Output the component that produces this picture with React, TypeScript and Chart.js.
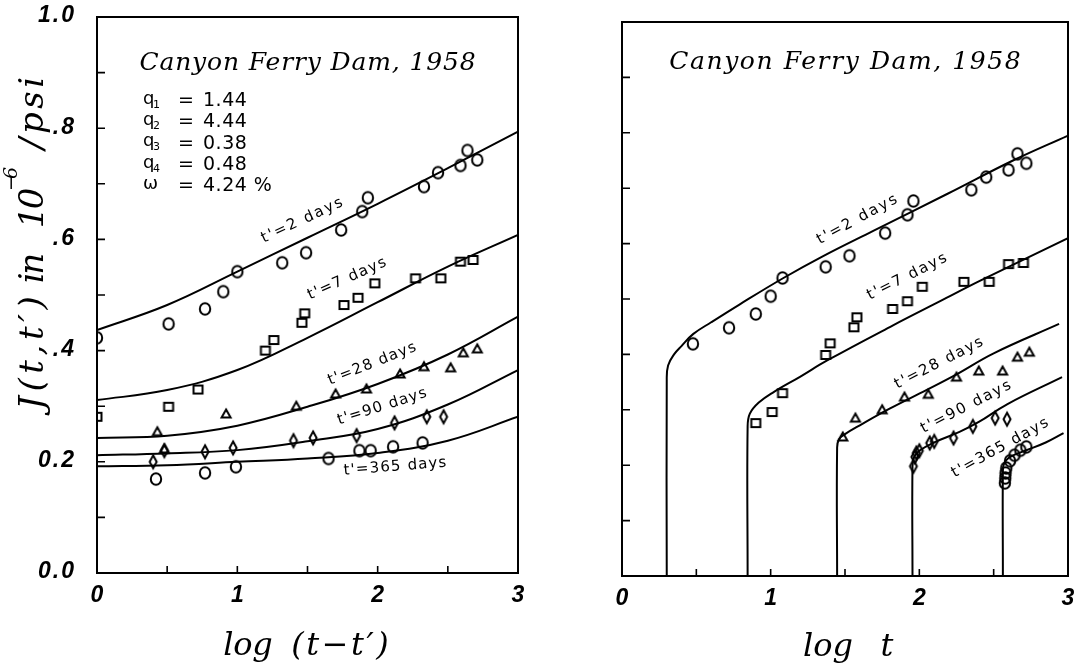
import React, { useEffect, useRef } from "react";
import { Chart, registerables } from "chart.js";

Chart.register(...registerables);

// ---------------- data ----------------
// Left panel: J(t,t') vs log(t - t')
const curveGrid = [0, 0.5, 1, 1.5, 2, 2.5, 3];
const leftCurve2 = [0.437, 0.482, 0.542, 0.603, 0.664, 0.728, 0.794];
const leftCurve7 = [0.311, 0.329, 0.365, 0.423, 0.487, 0.551, 0.608];
const leftCurve28 = [0.243, 0.247, 0.265, 0.299, 0.34, 0.393, 0.461];
const leftCurve90 = [0.212, 0.215, 0.221, 0.237, 0.259, 0.303, 0.365];
const leftCurve365 = [0.192, 0.194, 0.2, 0.206, 0.216, 0.238, 0.281];

const leftObs2X = [0, 0.51, 0.77, 0.9, 1.0, 1.32, 1.49, 1.74, 1.89, 1.93, 2.33, 2.43, 2.59, 2.64, 2.71];
const leftObs2Y = [0.423, 0.448, 0.475, 0.506, 0.542, 0.558, 0.576, 0.617, 0.65, 0.675, 0.695, 0.72, 0.733, 0.76, 0.743];
const leftObs7X = [0, 0.51, 0.72, 1.2, 1.26, 1.46, 1.48, 1.76, 1.86, 1.98, 2.27, 2.45, 2.59, 2.68];
const leftObs7Y = [0.281, 0.299, 0.33, 0.4, 0.419, 0.45, 0.467, 0.482, 0.495, 0.521, 0.53, 0.53, 0.56, 0.563];
const leftObs28X = [0.43, 0.48, 0.92, 1.42, 1.7, 1.92, 2.16, 2.33, 2.52, 2.61, 2.71];
const leftObs28Y = [0.254, 0.223, 0.286, 0.3, 0.322, 0.331, 0.358, 0.371, 0.369, 0.396, 0.403];
const leftObs90X = [0.4, 0.48, 0.77, 0.97, 1.4, 1.54, 1.85, 2.12, 2.35, 2.47];
const leftObs90Y = [0.2, 0.22, 0.218, 0.225, 0.238, 0.243, 0.247, 0.27, 0.281, 0.281];
const leftObs365X = [0.42, 0.77, 0.99, 1.65, 1.87, 1.95, 2.11, 2.32];
const leftObs365Y = [0.169, 0.18, 0.191, 0.206, 0.22, 0.22, 0.227, 0.234];

// Right panel: J(t,t') vs log t
const rightCurve2X = [0.301, 0.301, 0.31, 0.35, 0.4, 0.48, 0.6, 0.79, 1.08, 1.35, 1.69, 2.19, 2.63, 3.0];
const rightCurve2Y = [0, 0.355, 0.38, 0.4, 0.415, 0.437, 0.458, 0.49, 0.537, 0.577, 0.623, 0.69, 0.75, 0.795];
const rightCurve7X = [0.845, 0.845, 0.86, 0.92, 1.02, 1.2, 1.38, 1.82, 2.14, 2.41, 3.0];
const rightCurve7Y = [0, 0.27, 0.293, 0.313, 0.332, 0.36, 0.389, 0.452, 0.496, 0.533, 0.61];
const rightCurve28X = [1.447, 1.447, 1.46, 1.5, 1.6, 1.8, 2.05, 2.25, 2.5, 2.94];
const rightCurve28Y = [0, 0.232, 0.247, 0.256, 0.272, 0.302, 0.336, 0.364, 0.402, 0.455];
const rightCurve90X = [1.954, 1.954, 1.965, 2.0, 2.09, 2.27, 2.4, 2.59, 2.96];
const rightCurve90Y = [0, 0.198, 0.215, 0.226, 0.24, 0.26, 0.278, 0.31, 0.359];
const rightCurve365X = [2.562, 2.562, 2.57, 2.6, 2.65, 2.72, 2.85, 2.97];
const rightCurve365Y = [0, 0.19, 0.203, 0.213, 0.22, 0.227, 0.241, 0.258];

const rightObs2X = [0.477, 0.72, 0.9, 1.0, 1.08, 1.37, 1.53, 1.77, 1.92, 1.96, 2.35, 2.45, 2.6, 2.66, 2.72];
const rightObs2Y = [0.419, 0.448, 0.473, 0.505, 0.538, 0.558, 0.578, 0.619, 0.652, 0.677, 0.697, 0.72, 0.733, 0.762, 0.745];
const rightObs7X = [0.9, 1.01, 1.08, 1.37, 1.4, 1.56, 1.58, 1.82, 1.92, 2.02, 2.3, 2.47, 2.6, 2.7];
const rightObs7Y = [0.276, 0.296, 0.33, 0.399, 0.42, 0.449, 0.467, 0.482, 0.496, 0.522, 0.531, 0.531, 0.563, 0.565];
const rightObs28X = [1.485, 1.57, 1.75, 1.9, 2.06, 2.25, 2.4, 2.56, 2.66, 2.74];
const rightObs28Y = [0.251, 0.285, 0.3, 0.323, 0.328, 0.359, 0.37, 0.37, 0.395, 0.404];
const rightObs90X = [1.96, 1.97, 1.98, 2.0, 2.07, 2.1, 2.23, 2.36, 2.51, 2.59];
const rightObs90Y = [0.198, 0.215, 0.222, 0.226, 0.24, 0.243, 0.249, 0.27, 0.285, 0.283];
const rightObs365X = [2.575, 2.578, 2.58, 2.585, 2.61, 2.64, 2.68, 2.72];
const rightObs365Y = [0.168, 0.177, 0.186, 0.195, 0.208, 0.218, 0.227, 0.233];

// Axes / ticks
const yTickValues = [0, 0.2, 0.4, 0.6, 0.8, 1.0];
const yTickLabels = ["0.0", "0.2", ".4", ".6", ".8", "1.0"];
const yMinorTicks = [0.1, 0.2, 0.3, 0.4, 0.5, 0.6, 0.7, 0.8, 0.9];
const xTickValues = [0, 1, 2, 3];
const xTickLabels = ["0", "1", "2", "3"];
const xMinorTicks = [0.5, 1, 1.5, 2, 2.5];

// Texts
const chartTitle = "Canyon Ferry Dam, 1958";
const curveLabels = ["t'=2 days", "t'=7 days", "t'=28 days", "t'=90 days", "t'=365 days"];
const paramSymbols = ["q", "q", "q", "q", "ω"];
const paramSubscripts = ["1", "2", "3", "4", ""];
const paramValues = ["1.44", "4.44", "0.38", "0.48", "4.24 %"];

// Curve label anchors (data coordinates) and angles (deg)
const leftLabelX = [1.461, 1.782, 1.96, 2.031, 2.124];
const leftLabelY = [0.634, 0.529, 0.376, 0.299, 0.191];
const leftLabelAngle = [-25, -24, -21.6, -17.5, -4.6];
const leftLabelWidth = [90, 86, 95, 94, 104];
const rightLabelX = [1.581, 1.917, 2.132, 2.314, 2.543];
const rightLabelY = [0.643, 0.54, 0.384, 0.305, 0.231];
const rightLabelAngle = [-28.4, -26.6, -27, -27, -28.9];
const rightLabelWidth = [91, 89, 99, 101, 110];

// ---------------- helpers ----------------
const SANS = "'Liberation Sans', Arial, sans-serif";
const DSANS = "'DejaVu Sans', 'Liberation Sans', sans-serif";
const SERIF = "'DejaVu Serif', 'Liberation Serif', serif";

function fitText(
  ctx: CanvasRenderingContext2D,
  text: string,
  cx: number,
  cy: number,
  width: number,
  font: string,
  angle = 0,
  baseline: CanvasTextBaseline = "middle"
) {
  ctx.save();
  ctx.font = font;
  (ctx as any).letterSpacing = "0px";
  const w = ctx.measureText(text).width;
  const n = Array.from(text).length;
  const ls = n > 1 ? (width - w) / n : 0;
  (ctx as any).letterSpacing = ls.toFixed(2) + "px";
  const w2 = ctx.measureText(text).width - ls;
  ctx.translate(cx, cy);
  ctx.rotate(angle);
  ctx.textAlign = "left";
  ctx.textBaseline = baseline;
  ctx.fillStyle = "#000";
  ctx.fillText(text, -w2 / 2, 0);
  ctx.restore();
}

function pts(xs: number[], ys: number[]) {
  return xs.map((x, i) => ({ x, y: ys[i] }));
}

function curveDs(xs: number[], ys: number[]) {
  return {
    data: pts(xs, ys),
    showLine: true,
    borderColor: "#000",
    borderWidth: 2,
    pointRadius: 0,
    tension: 0.4,
    fill: false,
  };
}

function markerDs(xs: number[], ys: number[], img: HTMLCanvasElement) {
  return {
    data: pts(xs, ys),
    showLine: false,
    pointStyle: img,
    pointRadius: 6,
    borderColor: "#000",
    backgroundColor: "rgba(0,0,0,0)",
  };
}

function makeMarker(kind: string): HTMLCanvasElement {
  const c = document.createElement("canvas");
  c.width = 18;
  c.height = 18;
  const g = c.getContext("2d")!;
  g.strokeStyle = "#000";
  g.lineWidth = 2;
  g.beginPath();
  if (kind === "circle") g.ellipse(9, 9, 5.2, 5.8, 0, 0, Math.PI * 2);
  else if (kind === "square") g.rect(4.5, 5, 9, 8);
  else if (kind === "triangle") {
    g.moveTo(9, 4.5);
    g.lineTo(13.5, 12.5);
    g.lineTo(4.5, 12.5);
    g.closePath();
  } else {
    g.moveTo(9, 2.5);
    g.lineTo(12.5, 9);
    g.lineTo(9, 15.5);
    g.lineTo(5.5, 9);
    g.closePath();
  }
  g.stroke();
  return c;
}

function makePlugin(side: "left" | "right") {
  return {
    id: "decor_" + side,
    afterDraw(chart: any) {
      const ctx: CanvasRenderingContext2D = chart.ctx;
      const ca = chart.chartArea;
      const xs = chart.scales.x;
      const ys = chart.scales.y;
      ctx.save();
      ctx.strokeStyle = "#000";
      ctx.lineWidth = 2;
      ctx.strokeRect(ca.left, ca.top, ca.right - ca.left, ca.bottom - ca.top);
      ctx.lineWidth = 1.6;
      ctx.beginPath();
      for (const v of yMinorTicks) {
        const y = ys.getPixelForValue(v);
        ctx.moveTo(ca.left, y);
        ctx.lineTo(ca.left + 8, y);
      }
      for (const v of xMinorTicks) {
        const x = xs.getPixelForValue(v);
        ctx.moveTo(x, ca.bottom);
        ctx.lineTo(x, ca.bottom - 7);
      }
      ctx.stroke();

      // x tick labels
      xTickValues.forEach((v, i) => {
        const x = xs.getPixelForValue(v);
        fitText(ctx, xTickLabels[i], x, ca.bottom + 23, 12, `italic bold 23px ${SANS}`);
      });

      const cx = (ca.left + ca.right) / 2;
      const titleW = side === "left" ? 337 : 353;
      fitText(ctx, chartTitle, cx, ca.top + (side === "left" ? 46 : 40), titleW, `italic 25px ${SERIF}`);

      const labX = side === "left" ? leftLabelX : rightLabelX;
      const labY = side === "left" ? leftLabelY : rightLabelY;
      const labA = side === "left" ? leftLabelAngle : rightLabelAngle;
      const labW = side === "left" ? leftLabelWidth : rightLabelWidth;
      curveLabels.forEach((t, i) => {
        fitText(
          ctx,
          t,
          xs.getPixelForValue(labX[i]),
          ys.getPixelForValue(labY[i]),
          labW[i],
          `15px ${DSANS}`,
          (labA[i] * Math.PI) / 180
        );
      });

      if (side === "left") {
        // y tick labels
        ctx.font = `italic bold 23px ${SANS}`;
        (ctx as any).letterSpacing = "2px";
        ctx.textAlign = "right";
        ctx.textBaseline = "middle";
        ctx.fillStyle = "#000";
        yTickValues.forEach((v, i) => {
          ctx.fillText(yTickLabels[i], ca.left - 21, ys.getPixelForValue(v) - 1);
        });
        (ctx as any).letterSpacing = "0px";

        // parameter list
        paramSymbols.forEach((s, i) => {
          const y = ca.top + 84 + i * 21.3;
          ctx.font = `18px ${DSANS}`;
          ctx.textAlign = "left";
          ctx.textBaseline = "middle";
          ctx.fillText(s, ca.left + 46, y - 2);
          if (paramSubscripts[i]) {
            ctx.font = `11px ${DSANS}`;
            ctx.fillText(paramSubscripts[i], ca.left + 56, y + 4);
          }
          ctx.font = `19px ${DSANS}`;
          ctx.fillText("=", ca.left + 81, y);
          (ctx as any).letterSpacing = "0.5px";
          ctx.fillText(paramValues[i], ca.left + 106, y);
          (ctx as any).letterSpacing = "0px";
        });

        // y axis title (rotated)
        const yFont = `italic 34px ${SERIF}`;
        const base = 43;
        fitText(ctx, "J(t,t′)", base, 353, 118, yFont, -Math.PI / 2, "alphabetic");
        fitText(ctx, "in", base, 268, 28, yFont, -Math.PI / 2, "alphabetic");
        fitText(ctx, "10", base, 208, 38, yFont, -Math.PI / 2, "alphabetic");
        fitText(ctx, "−6", base - 26, 179, 20, `italic 19px ${SERIF}`, -Math.PI / 2, "alphabetic");
        fitText(ctx, "/psi", base, 113, 76, yFont, -Math.PI / 2, "alphabetic");

        // x axis title
        fitText(ctx, "log", 248, 655, 49, `italic 32px ${SERIF}`, 0, "alphabetic");
        fitText(ctx, "(t−t′)", 340, 655, 100, `italic 32px ${SERIF}`, 0, "alphabetic");
      } else {
        fitText(ctx, "log", 828 - 545, 656, 50, `italic 32px ${SERIF}`, 0, "alphabetic");
        fitText(ctx, "t", 887 - 545, 656, 12, `italic 32px ${SERIF}`, 0, "alphabetic");
      }
      ctx.restore();
    },
  };
}

function buildConfig(side: "left" | "right", mk: Record<string, HTMLCanvasElement>): any {
  const datasets =
    side === "left"
      ? [
          curveDs(curveGrid, leftCurve2),
          curveDs(curveGrid, leftCurve7),
          curveDs(curveGrid, leftCurve28),
          curveDs(curveGrid, leftCurve90),
          curveDs(curveGrid, leftCurve365),
          markerDs(leftObs2X, leftObs2Y, mk.circle),
          markerDs(leftObs7X, leftObs7Y, mk.square),
          markerDs(leftObs28X, leftObs28Y, mk.triangle),
          markerDs(leftObs90X, leftObs90Y, mk.diamond),
          markerDs(leftObs365X, leftObs365Y, mk.circle),
        ]
      : [
          curveDs(rightCurve2X, rightCurve2Y),
          curveDs(rightCurve7X, rightCurve7Y),
          curveDs(rightCurve28X, rightCurve28Y),
          curveDs(rightCurve90X, rightCurve90Y),
          curveDs(rightCurve365X, rightCurve365Y),
          markerDs(rightObs2X, rightObs2Y, mk.circle),
          markerDs(rightObs7X, rightObs7Y, mk.square),
          markerDs(rightObs28X, rightObs28Y, mk.triangle),
          markerDs(rightObs90X, rightObs90Y, mk.diamond),
          markerDs(rightObs365X, rightObs365Y, mk.circle),
        ];
  const padding =
    side === "left"
      ? { left: 97, top: 17, right: 27, bottom: 96 }
      : { left: 77, top: 22, right: 17, bottom: 93 };
  return {
    type: "scatter",
    data: { datasets },
    options: {
      responsive: false,
      animation: false,
      devicePixelRatio: 1,
      layout: { padding },
      plugins: { legend: { display: false }, tooltip: { enabled: false } },
      scales: {
        x: { type: "linear", min: 0, max: 3, display: false },
        y: { type: "linear", min: 0, max: 1, display: false },
      },
    },
    plugins: [makePlugin(side)],
  };
}

export default function App() {
  const leftRef = useRef<HTMLCanvasElement>(null);
  const rightRef = useRef<HTMLCanvasElement>(null);
  useEffect(() => {
    const mk = {
      circle: makeMarker("circle"),
      square: makeMarker("square"),
      triangle: makeMarker("triangle"),
      diamond: makeMarker("diamond"),
    };
    const c1 = new Chart(leftRef.current!, buildConfig("left", mk));
    const c2 = new Chart(rightRef.current!, buildConfig("right", mk));
    return () => {
      c1.destroy();
      c2.destroy();
    };
  }, []);
  return (
    <div style={{ position: "fixed", left: 0, top: 0, width: 1085, height: 669, background: "#fff" }}>
      <canvas
        ref={leftRef}
        width={545}
        height={669}
        style={{ position: "absolute", left: 0, top: 0, width: 545, height: 669 }}
      />
      <canvas
        ref={rightRef}
        width={540}
        height={669}
        style={{ position: "absolute", left: 545, top: 0, width: 540, height: 669 }}
      />
    </div>
  );
}
